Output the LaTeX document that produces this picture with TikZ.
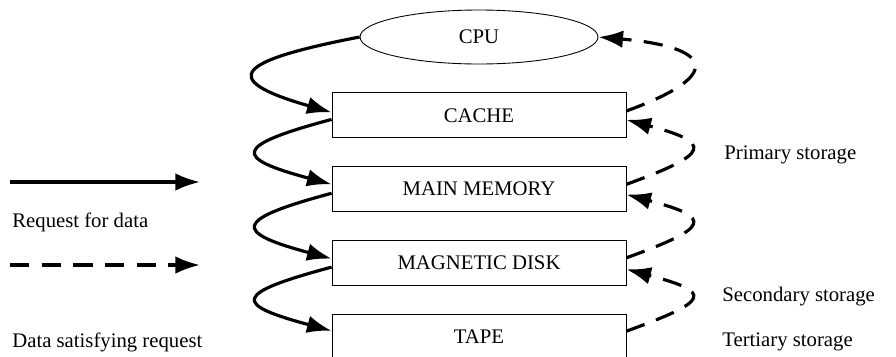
\documentclass[tikz,border=0pt]{standalone}
\usepackage{fontspec}
\setmainfont{Liberation Serif}
\usetikzlibrary{positioning,arrows.meta,shapes.geometric}

\begin{document}
\begin{tikzpicture}[
    x=0.02cm, y=-0.02cm,
    node distance=0.56cm,
    font=\fontsize{11.8}{14}\selectfont,
    unit/.style={draw, line width=0.5pt, minimum width=5.88cm, minimum height=0.9cm, inner sep=0pt},
    cpuunit/.style={draw, ellipse, line width=0.5pt, minimum width=4.76cm, minimum height=1.08cm, inner sep=0pt},
    req/.style={-{Latex[length=14pt,width=10pt]}, line width=1.8pt},
    sat/.style={req, dash pattern=on 11pt off 7pt},
    lbl/.style={anchor=west, inner sep=0pt}
]
    \useasboundingbox (0,0) rectangle (896,356);
    \clip (0,0) rectangle (896,356);

    % memory hierarchy
    \node[cpuunit] (cpu) at (479,37) {CPU};
    \node[unit, below=of cpu] (cache) {CACHE};
    \node[unit, below=of cache] (mainmem) {MAIN MEMORY};
    \node[unit, below=of mainmem] (disk) {MAGNETIC DISK};
    \node[unit, below=of disk] (tape) {TAPE};

    % requests going down
    \draw[req] (cpu.west) to[out=191, in=164, distance=2.45cm] ([yshift=1.7pt]cache.west);
    \draw[req] ([yshift=-2.3pt]cache.west) to[out=195, in=165, distance=2.05cm] ([yshift=2.8pt]mainmem.west);
    \draw[req] ([yshift=-2.3pt]mainmem.west) to[out=195, in=165, distance=2.05cm] ([yshift=2.5pt]disk.west);
    \draw[req] ([yshift=-2.3pt]disk.west) to[out=195, in=165, distance=2.05cm] ([yshift=3.5pt]tape.west);

    % data coming back up
    \draw[sat] ([yshift=2.5pt]cache.east) to[out=20, in=-5, distance=2.2cm] (cpu.east);
    \draw[sat] ([yshift=2.8pt]mainmem.east) to[out=20, in=-15, distance=1.8cm] ([yshift=-2.5pt]cache.east);
    \draw[sat] ([yshift=3pt]disk.east) to[out=20, in=-15, distance=1.8cm] ([yshift=-3pt]mainmem.east);
    \draw[sat] ([yshift=3.3pt]tape.east) to[out=20, in=-15, distance=1.8cm] ([yshift=-3.5pt]disk.east);

    % storage levels
    \node[lbl] (primary) at (724,155) {Primary storage};
    \node[lbl] (secondary) at (722,297) {Secondary storage};
    \node[lbl] (tertiary) at (722,342) {Tertiary storage};

    % legend
    \coordinate (reqa) at (10,182);
    \coordinate (reqb) at (200,182);
    \coordinate (sata) at (10,265);
    \coordinate (satb) at (200,265);
    \draw[req] (reqa) -- (reqb);
    \draw[sat] (sata) -- (satb);
    \node[lbl] (reqtext) at (12,222) {Request for data};
    \node[lbl] (sattext) at (12,342) {Data satisfying request};
\end{tikzpicture}
\end{document}
